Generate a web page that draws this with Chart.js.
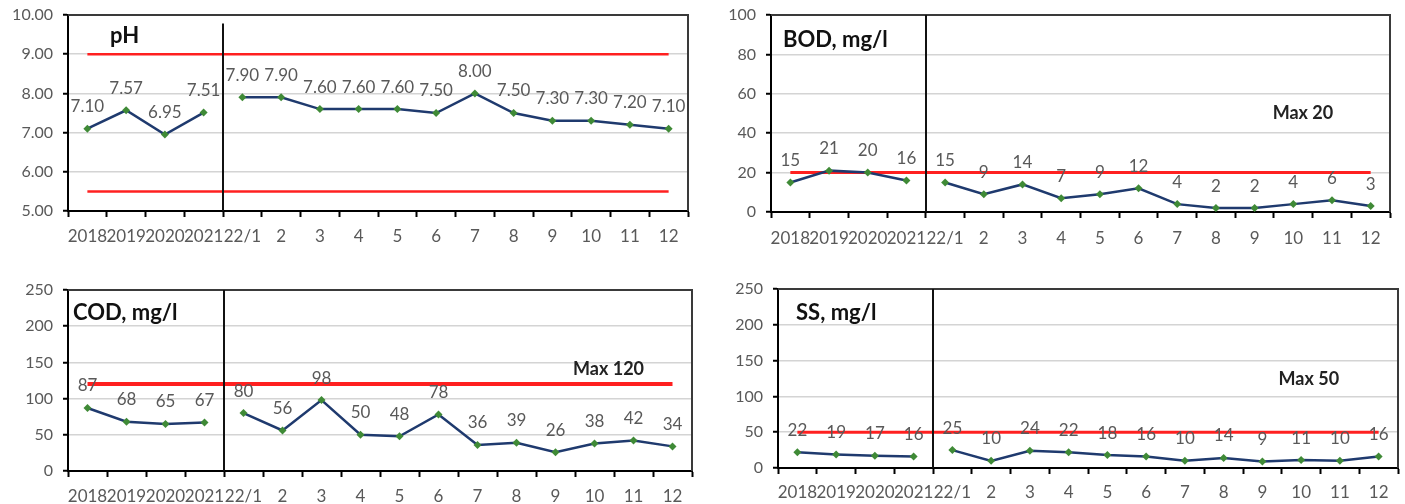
<!DOCTYPE html>
<html>
<head>
<meta charset="utf-8">
<script src="https://cdn.jsdelivr.net/npm/chart.js@4.4.1/dist/chart.umd.min.js"></script>
<style>
  html, body { margin: 0; padding: 0; background: #fff; overflow: hidden; }
  #wrap { position: relative; width: 1405px; height: 504px; }
  canvas { position: absolute; }
</style>
</head>
<body>
<div id="wrap">
  <canvas id="ph"  width="700" height="255" style="left:0;top:0"></canvas>
  <canvas id="bod" width="705" height="255" style="left:700px;top:0"></canvas>
  <canvas id="cod" width="700" height="249" style="left:0;top:255px"></canvas>
  <canvas id="ss"  width="705" height="249" style="left:700px;top:255px"></canvas>
</div>
<script>
// Sampling periods: yearly averages, then monthly results for 2022
const categories = ['2018', '2019', '2020', '2021', '22/1', '2', '3', '4', '5', '6', '7', '8', '9', '10', '11', '12'];

// Measured values
const phValues  = [7.10, 7.57, 6.95, 7.51, 7.90, 7.90, 7.60, 7.60, 7.60, 7.50, 8.00, 7.50, 7.30, 7.30, 7.20, 7.10];
const bodValues = [15, 21, 20, 16, 15, 9, 14, 7, 9, 12, 4, 2, 2, 4, 6, 3];
const codValues = [87, 68, 65, 67, 80, 56, 98, 50, 48, 78, 36, 39, 26, 38, 42, 34];
const ssValues  = [22, 19, 17, 16, 25, 10, 24, 22, 18, 16, 10, 14, 9, 11, 10, 16];

// Permitted limits
const phLimits  = [9.0, 5.5];
const bodLimits = [20];
const codLimits = [120];
const ssLimits  = [50];

// Value axis ranges: [min, max, step]
const phAxis  = [5, 10, 1];
const bodAxis = [0, 100, 20];
const codAxis = [0, 250, 50];
const ssAxis  = [0, 250, 50];

const FONT = 'Lato, "Open Sans", "Liberation Sans", sans-serif';
const GREY_TEXT = '#595959';

// Panel decorations: frame, year/month divider, title, limit note, value labels
const panelDecor = {
  id: 'panelDecor',
  afterDatasetsDraw(chart, args, opts) {
    const { ctx, chartArea: a, scales: { x, y } } = chart;
    ctx.save();

    // frame on top and right
    ctx.strokeStyle = '#3a3a3a';
    ctx.lineWidth = 2;
    ctx.beginPath();
    ctx.moveTo(a.left, a.top);
    ctx.lineTo(a.right, a.top);
    ctx.lineTo(a.right, a.bottom);
    ctx.stroke();

    // divider between yearly and monthly data
    const dx = Math.round((x.getPixelForValue(3) + x.getPixelForValue(4)) / 2);
    const dTop = opts.dividerFrom != null ? y.getPixelForValue(opts.dividerFrom) : a.top;
    ctx.strokeStyle = '#111';
    ctx.lineWidth = 2;
    ctx.beginPath();
    ctx.moveTo(dx, dTop);
    ctx.lineTo(dx, a.bottom);
    ctx.stroke();

    // value labels above each point
    const meta = chart.getDatasetMeta(0);
    const values = chart.data.datasets[0].data;
    ctx.font = '17px ' + FONT;
    ctx.fillStyle = GREY_TEXT;
    ctx.textAlign = 'center';
    ctx.textBaseline = 'middle';
    meta.data.forEach((pt, i) => {
      ctx.fillText(values[i].toFixed(opts.decimals), pt.x, pt.y - 22);
    });

    // panel title
    ctx.font = 'bold 22px ' + FONT;
    ctx.fillStyle = '#111';
    ctx.textAlign = 'left';
    ctx.textBaseline = 'alphabetic';
    ctx.fillText(opts.title, a.left + opts.titleDx, a.top + opts.titleDy);

    // limit note
    if (opts.note) {
      ctx.font = 'bold 18px ' + FONT;
      ctx.fillStyle = '#222';
      ctx.textAlign = 'center';
      ctx.textBaseline = 'middle';
      ctx.fillText(opts.note, x.getPixelForValue(opts.noteAt[0]), y.getPixelForValue(opts.noteAt[1]));
    }
    ctx.restore();
  }
};

function makePanel(id, values, limits, axis, cfg) {
  const datasets = [{
    data: values,
    borderColor: '#1f3a6e',
    borderWidth: 2.5,
    tension: 0,
    pointStyle: 'rectRot',
    pointRadius: 4,
    pointBackgroundColor: '#3f8a36',
    pointBorderColor: '#3f8a36',
    pointBorderWidth: 0,
    segment: {
      // yearly and monthly series are not joined
      borderColor: c => c.p0DataIndex === 3 ? 'rgba(0,0,0,0)' : undefined
    }
  }];
  limits.forEach(lim => {
    datasets.push({
      data: categories.map(() => lim),
      borderColor: '#ff2020',
      borderWidth: cfg.limitWidth,
      pointRadius: 0,
      tension: 0
    });
  });

  return new Chart(document.getElementById(id), {
    type: 'line',
    data: { labels: categories, datasets },
    options: {
      responsive: false,
      animation: false,
      layout: { padding: cfg.padding },
      plugins: {
        legend: { display: false },
        tooltip: { enabled: false },
        panelDecor: cfg.decor
      },
      scales: {
        x: {
          offset: true,
          afterFit: s => { s.height = cfg.xHeight; s.paddingLeft = 0; s.paddingRight = 0; },
          grid: {
            offset: true,
            drawOnChartArea: false,
            drawTicks: true,
            tickLength: 6,
            tickColor: '#000',
            tickWidth: 2
          },
          border: { color: '#000', width: 2 },
          ticks: {
            autoSkip: false,
            maxRotation: 0,
            padding: cfg.xPad,
            color: GREY_TEXT,
            font: { family: FONT, size: 17 }
          }
        },
        y: {
          min: axis[0],
          max: axis[1],
          afterFit: s => { s.width = cfg.yWidth; s.paddingTop = 0; s.paddingBottom = 0; },
          grid: {
            color: '#d4d4d4',
            lineWidth: 1.5,
            tickLength: 5,
            tickColor: '#000',
            tickWidth: 2
          },
          border: { color: '#000', width: 2 },
          ticks: {
            stepSize: axis[2],
            padding: 10,
            color: GREY_TEXT,
            font: { family: FONT, size: 16 },
            callback: v => cfg.decor.decimals ? Number(v).toFixed(2) : String(v)
          }
        }
      }
    },
    plugins: [panelDecor]
  });
}

makePanel('ph', phValues, phLimits, phAxis, {
  padding: { left: 0, top: 15, right: 12, bottom: 0 },
  yWidth: 68, xHeight: 44, xPad: 9, limitWidth: 2.5,
  decor: { title: 'pH', titleDx: 42, titleDy: 28, decimals: 2, dividerFrom: 9.78 }
});

makePanel('bod', bodValues, bodLimits, bodAxis, {
  padding: { left: 0, top: 15, right: 15, bottom: 0 },
  yWidth: 71, xHeight: 43, xPad: 10, limitWidth: 3,
  decor: { title: 'BOD, mg/l', titleDx: 12, titleDy: 32, decimals: 0, note: 'Max 20', noteAt: [13.25, 50] }
});

makePanel('cod', codValues, codLimits, codAxis, {
  padding: { left: 0, top: 35, right: 8, bottom: 0 },
  yWidth: 68, xHeight: 33, xPad: 9, limitWidth: 4,
  decor: { title: 'COD, mg/l', titleDx: 5, titleDy: 30, decimals: 0, note: 'Max 120', noteAt: [13.36, 141] }
});

makePanel('ss', ssValues, ssLimits, ssAxis, {
  padding: { left: 0, top: 34, right: 7, bottom: 0 },
  yWidth: 78, xHeight: 36, xPad: 8, limitWidth: 3,
  decor: { title: 'SS, mg/l', titleDx: 18, titleDy: 31, decimals: 0, note: 'Max 50', noteAt: [13.2, 124] }
});
</script>
</body>
</html>
